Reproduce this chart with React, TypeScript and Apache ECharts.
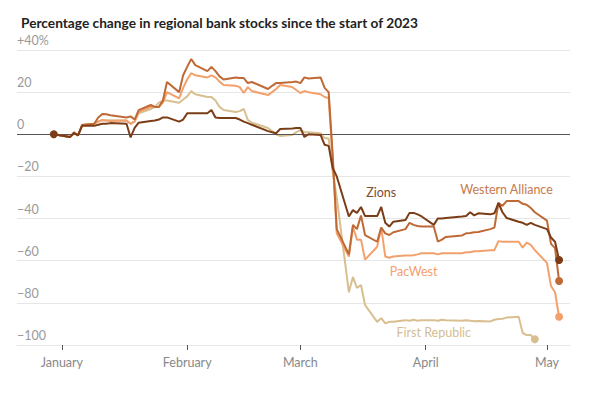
import React, { useEffect, useRef } from "react";
import * as echarts from "echarts";

const dates = [
  "2022-12-30",
  "2023-01-03", "2023-01-04", "2023-01-05", "2023-01-06", "2023-01-09", "2023-01-10", "2023-01-11", "2023-01-12", "2023-01-13",
  "2023-01-17", "2023-01-18", "2023-01-19", "2023-01-20", "2023-01-23", "2023-01-24", "2023-01-25", "2023-01-26", "2023-01-27",
  "2023-01-30", "2023-01-31",
  "2023-02-01", "2023-02-02", "2023-02-03", "2023-02-06", "2023-02-07", "2023-02-08", "2023-02-09", "2023-02-10",
  "2023-02-13", "2023-02-14", "2023-02-15", "2023-02-16", "2023-02-17", "2023-02-21", "2023-02-22", "2023-02-23", "2023-02-24",
  "2023-02-27", "2023-02-28",
  "2023-03-01", "2023-03-02", "2023-03-03", "2023-03-06", "2023-03-07", "2023-03-08", "2023-03-09", "2023-03-10",
  "2023-03-13", "2023-03-14", "2023-03-15", "2023-03-16", "2023-03-17", "2023-03-20", "2023-03-21", "2023-03-22", "2023-03-23",
  "2023-03-24", "2023-03-27", "2023-03-28", "2023-03-29", "2023-03-30", "2023-03-31",
  "2023-04-03", "2023-04-04", "2023-04-05", "2023-04-06", "2023-04-10", "2023-04-11", "2023-04-12", "2023-04-13", "2023-04-14",
  "2023-04-17", "2023-04-18", "2023-04-19", "2023-04-20", "2023-04-21", "2023-04-24", "2023-04-25", "2023-04-26", "2023-04-27",
  "2023-04-28",
  "2023-05-01", "2023-05-02", "2023-05-03", "2023-05-04",
];

const zions = [
  0,
  -1.3, 0.5, -0.5, 4, 4, 4.5, 5, 5, 5.3,
  5, -1.5, 3, 5.5, 6.3, 6.5, 7, 8, 8,
  6, 7,
  10, 10, 10, 10, 11.5, 8, 7.7, 7.7,
  7.7, 7, 6, 5.3, 4.5, 1.5, 1, 0.5, 2.5,
  2.8, 3,
  3, -1.3, 0, -0.3, -5, -5.5, -16, -20,
  -39, -36, -37.3, -34.5, -38.8, -38.8, -34.5, -42, -43.8,
  -41.5, -40.7, -37.3, -37.3, -38, -39,
  -43, -40, -40, -39.7, -39, -38.8, -37, -38.5, -37.5,
  -38, -37.5, -32.6, -37, -39.7, -41.5, -42, -43, -42,
  -43,
  -45, -49, -51, -59.7,
];

const westernAlliance = [
  0,
  -1.3, 1, -0.5, 4.4, 5, 8, 9.6, 9.5, 9,
  8, 8.5, 7, 11.5, 13.9, 13, 13, 16, 24.8,
  20, 28,
  32, 35.7, 32.8, 30, 32, 30, 27.5, 26,
  27, 26.7, 26.7, 24.3, 24.8, 21.5, 23, 24.3, 24.3,
  24.8, 25,
  24.3, 27, 26.5, 27, 22, 20, -10, -45,
  -57, -43, -45, -38.5, -47.8, -51, -44.3, -47, -47.8,
  -46.5, -45, -42, -43, -43.5, -43.8,
  -43.8, -50.9, -50, -48.7, -48, -47, -46.8, -46.5, -46.4,
  -45, -44.3, -32.6, -34, -31.7, -31.7, -33, -33.4, -35,
  -37,
  -41, -52, -54, -69.6,
];

const pacWest = [
  0,
  -1.3, 0.5, -0.5, 4.4, 5, 6, 6.8, 6.5, 6.3,
  6.5, 5, 6, 10.6, 13, 13, 13, 15, 20,
  17, 22,
  26, 29, 28, 27, 28, 27, 25, 23.4,
  23, 22.4, 19.6, 22.4, 20.5, 18.6, 20, 21.5, 23.4,
  22.4, 21,
  19.6, 20.5, 20, 19, 17.7, 17.2, -12, -47,
  -58, -44, -50, -50, -59.5, -53.4, -44.3, -58, -58.6,
  -58, -57.5, -57.5, -57.4, -57, -56.5,
  -56.5, -57, -56.5, -56.5, -56.5, -56, -56, -55.5, -55.5,
  -55, -55, -50.7, -51, -51, -51, -53.8, -51.4, -52.5,
  -55,
  -61, -72, -75, -86.6,
];

const firstRepublic = [
  0,
  -1.3, 0.5, -0.5, 4.4, 5, 6, 6.8, 6.5, 6.7,
  6.5, 5, 6, 10, 12, 13, 15, 16, 16,
  15, 16.5,
  18, 20.5, 19, 17.7, 17.7, 16, 13, 11.5,
  10.6, 11, 12, 6.8, 5.5, 3, 1.5, 0, -0.8,
  -0.3, 1,
  2, 1, 1, 0.5, -1.8, -2, -18, -30,
  -75, -67.7, -72.9, -71.5, -81, -89, -87.3, -89.7, -89,
  -89, -88.2, -88.5, -88, -88.5, -88.2,
  -88.2, -88.5, -88, -88.2, -88.5, -88.3, -88.5, -88.7, -88.6,
  -88.8, -88, -87.7, -87.5, -87, -86.6, -94.3, -95.3, -95.3,
  -97.3,
];

const yTicks = [-100, -80, -60, -40, -20, 0, 20, 40];
const monthTicks = ["2023-01-01", "2023-02-01", "2023-03-01", "2023-04-01", "2023-05-01"];
const monthLabels = ["January", "February", "March", "April", "May"];

const seriesNames = ["First Republic", "PacWest", "Western Alliance", "Zions"];
const seriesLineColors = ["#d8bf91", "#f3a16c", "#bf6a36", "#7a3d17"];
const seriesTextColors = ["#d3bd93", "#f3a070", "#c8794c", "#7d4c33"];
const labelAnchors: [string, number][] = [
  ["2023-04-03", -94.3],
  ["2023-03-29", -64.9],
  ["2023-04-21", -26],
  ["2023-03-21", -27.4],
];

const toDay = (s: string) => {
  const [y, m, d] = s.split("-").map(Number);
  return (Date.UTC(y, m - 1, d) - Date.UTC(2023, 0, 1)) / 86400000;
};

export default function App() {
  const ref = useRef<HTMLDivElement>(null);
  useEffect(() => {
    if (!ref.current) return;
    const chart = echarts.init(ref.current, undefined, { renderer: "svg" });
    const xs = dates.map(toDay);
    const all = [firstRepublic, pacWest, westernAlliance, zions];
    const tickDays = monthTicks.map(toDay);
    const font = "Lato, 'Open Sans', sans-serif";

    const series: any[] = all.map((vals, i) => {
      const last = vals.length - 1;
      const anchor = labelAnchors[i];
      return {
        type: "line",
        name: seriesNames[i],
        data: vals.map((v, k) => [xs[k], v]),
        symbol: "circle",
        showAllSymbol: true,
        symbolSize: (_v: any, p: any) =>
          p.dataIndex === last || (i === 3 && p.dataIndex === 0) ? 8 : 0,
        itemStyle: { color: seriesLineColors[i] },
        lineStyle: { color: seriesLineColors[i], width: 2 },
        z: 3 + i,
        silent: true,
        markPoint: {
          symbol: "circle",
          symbolSize: 0,
          silent: true,
          data: [
            {
              coord: [toDay(anchor[0]), anchor[1]],
              label: {
                show: true,
                formatter: seriesNames[i],
                position: "inside",
                color: seriesTextColors[i],
                fontSize: 12.5,
                fontFamily: font,
              },
            },
          ],
        },
      };
    });
    series.push({
      type: "line",
      data: [],
      markLine: {
        silent: true,
        symbol: "none",
        label: { show: false },
        lineStyle: { color: "#555", width: 1, type: "solid" },
        data: [{ yAxis: 0 }],
      },
      z: 2,
    });

    chart.setOption({
      animation: false,
      title: {
        text: "Percentage change in regional bank stocks since the start of 2023",
        left: 16,
        top: 10,
        textStyle: { fontSize: 13.7, fontWeight: "bold", color: "#222", fontFamily: font },
      },
      grid: { left: 17, right: 30, top: 50, bottom: 53 },
      xAxis: {
        type: "value",
        min: -11.1,
        max: 125.7,
        axisLine: { show: true, onZero: false, lineStyle: { color: "#e6e6e6", width: 1 } },
        splitLine: { show: false },
        axisTick: {
          show: true,
          inside: false,
          length: 5,
          lineStyle: { color: "#555", width: 1 },
          customValues: tickDays,
        },
        axisLabel: {
          customValues: tickDays,
          margin: 11,
          color: "#888",
          fontSize: 12.5,
          fontFamily: font,
          formatter: (v: number) => {
            const idx = tickDays.findIndex((t) => Math.abs(t - v) < 0.01);
            return idx >= 0 ? monthLabels[idx] : "";
          },
        },
      },
      yAxis: {
        type: "value",
        min: yTicks[0],
        max: yTicks[yTicks.length - 1],
        interval: 20,
        axisLine: { show: false },
        axisTick: { show: false },
        splitLine: { show: true, lineStyle: { color: "#e6e6e6", width: 1 } },
        axisLabel: {
          inside: true,
          margin: 0,
          verticalAlign: "bottom",
          padding: [0, 0, 3, 0],
          color: "#999",
          fontSize: 12.5,
          fontFamily: font,
          formatter: (v: number) =>
            v === 40 ? "+40%" : v < 0 ? "\u2212" + Math.abs(v) : String(v),
        },
      },
      series,
    });
    return () => chart.dispose();
  }, []);
  return (
    <div
      ref={ref}
      style={{ position: "fixed", left: 0, top: 0, width: 600, height: 398, background: "#fff" }}
    />
  );
}
